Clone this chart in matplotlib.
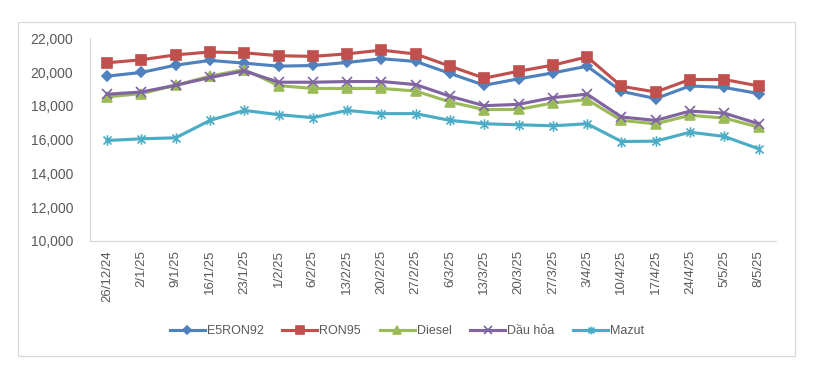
import matplotlib.pyplot as plt
from matplotlib.patches import Rectangle
from matplotlib.path import Path

# --- data ---
dates = ["26/12/24", "2/1/25", "9/1/25", "16/1/25", "23/1/25", "1/2/25", "6/2/25",
         "13/2/25", "20/2/25", "27/2/25", "6/3/25", "13/3/25", "20/3/25", "27/3/25",
         "3/4/25", "10/4/25", "17/4/25", "24/4/25", "5/5/25", "8/5/25"]

e5ron92 = [19760, 19980, 20410, 20690, 20530, 20350, 20390, 20570, 20790, 20630,
           19920, 19220, 19600, 19950, 20350, 18860, 18430, 19180, 19090, 18730]
ron95 = [20550, 20730, 21020, 21190, 21140, 20970, 20930, 21080, 21300, 21070,
         20350, 19640, 20050, 20410, 20900, 19160, 18820, 19560, 19560, 19180]
diesel = [18530, 18730, 19220, 19760, 20150, 19200, 19030, 19030, 19030, 18880,
          18230, 17780, 17790, 18170, 18370, 17140, 16940, 17440, 17280, 16740]
dau_hoa = [18690, 18820, 19220, 19680, 20070, 19400, 19400, 19440, 19440, 19260,
           18570, 18010, 18090, 18490, 18690, 17340, 17140, 17690, 17570, 16940]
mazut = [15950, 16050, 16110, 17140, 17730, 17480, 17300, 17730, 17540, 17540,
         17140, 16940, 16880, 16820, 16940, 15890, 15910, 16440, 16190, 15460]

names = ["E5RON92", "RON95", "Diesel", "Dầu hỏa", "Mazut"]
colors = ["#4F81BD", "#C0504D", "#9BBB59", "#8064A2", "#4BACC6"]

# Excel style star marker: an x plus a vertical bar
star = Path([(-1, -1), (1, 1), (-1, 1), (1, -1), (0, -1.3), (0, 1.3)],
            [Path.MOVETO, Path.LINETO, Path.MOVETO, Path.LINETO, Path.MOVETO, Path.LINETO])
markers = ["D", "s", "^", "x", star]
msizes = [5.5, 7, 7.5, 7, 7.5]

plt.rcParams["font.family"] = ["Liberation Sans", "DejaVu Sans"]

fig = plt.figure(figsize=(8.21, 3.85), dpi=100)
ax = fig.add_axes([90 / 821, 1 - 241 / 385, (775.7 - 90) / 821, (241 - 38.3) / 385])

series = [e5ron92, ron95, diesel, dau_hoa, mazut]
x = range(len(dates))
for vals, name, c, m, ms in zip(series, names, colors, markers, msizes):
    ax.plot(x, vals, color=c, lw=2.25, marker=m, markersize=ms,
            markerfacecolor=c, markeredgecolor=c, markeredgewidth=1.2, label=name)

ax.set_xlim(-0.5, len(dates) - 0.5)
ax.set_ylim(10000, 22000)
ax.set_yticks(range(10000, 22001, 2000))
ax.set_yticklabels([f"{v:,}" for v in range(10000, 22001, 2000)])
ax.set_xticks(list(x))
ax.set_xticklabels(dates, rotation=90, va="top", ha="center")

for s in ["top", "right"]:
    ax.spines[s].set_visible(False)
for s in ["left", "bottom"]:
    ax.spines[s].set_color("#D9D9D9")
    ax.spines[s].set_linewidth(0.9)
ax.tick_params(axis="y", length=0, pad=12, labelsize=10, labelcolor="#595959")
ax.tick_params(axis="x", length=0, pad=6.5, labelsize=9.5, labelcolor="#595959")

leg = fig.legend(loc="center", bbox_to_anchor=(407 / 821, 1 - 331 / 385), ncol=5,
                 frameon=False, fontsize=9, handlelength=2.8, handletextpad=0.15,
                 columnspacing=1.5, labelcolor="#595959", markerscale=0.75)

# outer chart border
fig.patches.append(Rectangle((17.5 / 821, 1 - 355.5 / 385), 777 / 821, 334 / 385,
                             transform=fig.transFigure, fill=False,
                             edgecolor="#D9D9D9", linewidth=0.9))

fig.savefig("out.png", dpi=100)
